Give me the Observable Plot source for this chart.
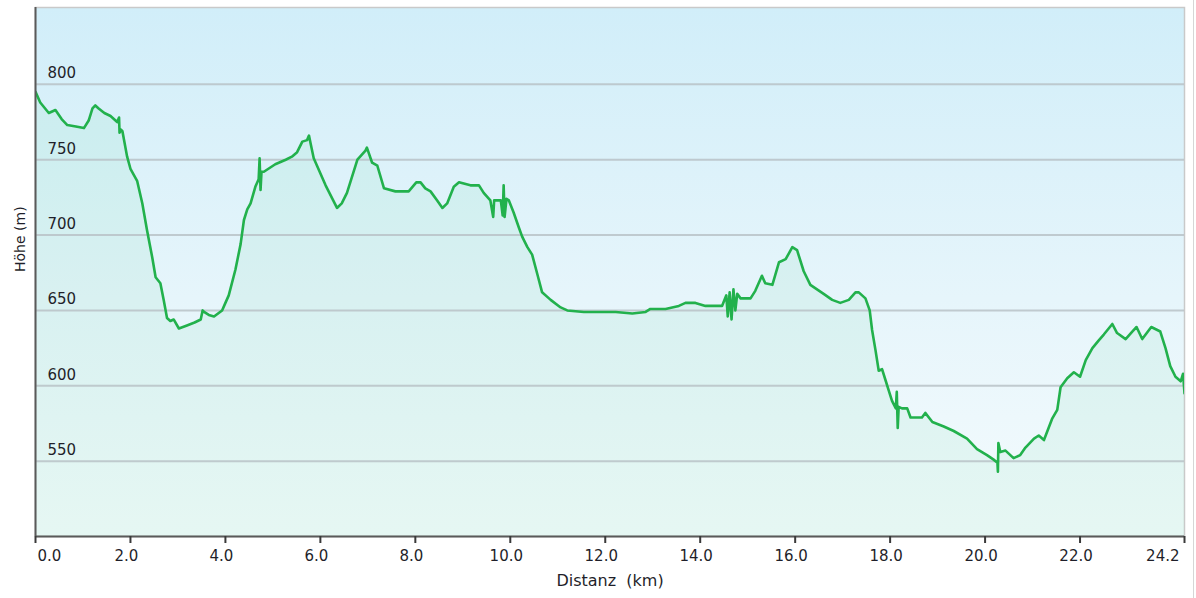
<!DOCTYPE html>
<html>
<head>
<meta charset="utf-8">
<script src="https://cdn.jsdelivr.net/npm/d3@7"></script>
<script src="https://cdn.jsdelivr.net/npm/@observablehq/plot@0.6"></script>
<style>
  html, body { margin: 0; padding: 0; background: #fff; }
  #chart { position: relative; width: 1196px; height: 598px; }
  #edge { position: absolute; left: 1193px; top: 0; width: 1px; height: 598px; background: #d6d6d6; }
  svg text { white-space: pre; }
</style>
</head>
<body>
<div id="chart"><div id="edge"></div></div>
<script>
// Distance along the route (km) and elevation (m)
const distKm = [
  0.00, 0.10, 0.28, 0.42, 0.55, 0.67, 0.85, 1.02, 1.12, 1.20, 1.26, 1.33, 1.45, 1.58, 1.72, 1.76, 1.77, 1.80,
  1.83, 1.93, 2.00, 2.14, 2.25, 2.35, 2.46, 2.53, 2.63, 2.70, 2.77, 2.84, 2.91, 3.02, 3.19, 3.35, 3.48, 3.52,
  3.55, 3.65, 3.76, 3.93, 4.00, 4.07, 4.21, 4.32, 4.39, 4.46, 4.53, 4.63, 4.70, 4.72, 4.74, 4.76, 4.81, 5.05,
  5.27, 5.40, 5.51, 5.62, 5.72, 5.76, 5.80, 5.86, 6.11, 6.35, 6.45, 6.56, 6.78, 6.95, 6.98, 7.09, 7.20, 7.34,
  7.58, 7.86, 8.02, 8.11, 8.21, 8.32, 8.46, 8.57, 8.67, 8.81, 8.92, 9.16, 9.34, 9.44, 9.58, 9.64, 9.66, 9.80,
  9.84, 9.86, 9.88, 9.92, 9.97, 10.07, 10.18, 10.25, 10.36, 10.46, 10.57, 10.67, 10.85, 11.06, 11.20, 11.55,
  11.90, 12.22, 12.57, 12.85, 12.95, 13.27, 13.55, 13.69, 13.90, 14.11, 14.46, 14.55, 14.58, 14.62, 14.66,
  14.70, 14.74, 14.78, 14.85, 15.06, 15.16, 15.30, 15.37, 15.52, 15.66, 15.80, 15.94, 16.04, 16.18, 16.32,
  16.60, 16.78, 16.95, 17.13, 17.27, 17.34, 17.48, 17.57, 17.62, 17.69, 17.76, 17.83, 17.90, 17.97, 18.04,
  18.12, 18.14, 18.16, 18.18, 18.25, 18.36, 18.43, 18.67, 18.74, 18.89, 19.13, 19.34, 19.62, 19.83, 20.04,
  20.18, 20.26, 20.27, 20.28, 20.32, 20.43, 20.60, 20.74, 20.85, 21.03, 21.13, 21.24, 21.41, 21.52, 21.59,
  21.73, 21.87, 22.00, 22.12, 22.26, 22.39, 22.50, 22.68, 22.78, 22.96, 23.10, 23.19, 23.31, 23.50, 23.69,
  23.80, 23.90, 24.01, 24.12, 24.17, 24.20
];
const elevM = [
  795, 788, 781, 783, 777, 773, 772, 771, 776, 784, 786, 784, 781, 779, 775, 778, 768, 770,
  769, 752, 744, 736, 721, 703, 685, 672, 668, 657, 645, 643, 644, 638, 640, 642, 644, 650,
  649, 647, 646, 650, 655, 660, 677, 694, 710, 717, 721, 732, 737, 751, 730, 742, 742, 747,
  750, 752, 755, 762, 763, 766, 760, 751, 733, 718, 721, 728, 750, 756, 758, 748, 746, 731,
  729, 729, 735, 735, 731, 729, 723, 718, 721, 732, 735, 733, 733, 728, 723, 712, 723, 723,
  713, 733, 712, 724, 723, 715, 705, 699, 692, 687, 674, 662, 657, 652, 650, 649,
  649, 649, 648, 649, 651, 651, 653, 655, 655, 653, 653, 660, 646, 662, 644,
  664, 650, 661, 658, 658, 663, 673, 668, 667, 682, 684, 692, 690, 676, 667,
  661, 657, 655, 657, 662, 662, 658, 650, 637, 624, 610, 611, 604, 597, 590,
  585, 596, 572, 586, 585, 585, 579, 579, 582, 576, 573, 570, 565, 558, 554,
  551, 549, 543, 562, 556, 557, 552, 554, 559, 565, 567, 564, 578, 584, 599,
  605, 609, 606, 617, 625, 630, 634, 641, 635, 631, 636, 639, 631, 639, 636,
  625, 613, 606, 603, 608, 595
];
const xTicks = [0, 2, 4, 6, 8, 10, 12, 14, 16, 18, 20, 22, 24.2];
const yTicks = [550, 600, 650, 700, 750, 800];
const xDomain = [0, 24.2];
const yDomain = [500, 851];
const xLabel = "Distanz  (km)";
const yLabel = "Höhe (m)";

const data = distKm.map((d, i) => ({km: d, elev: elevM[i]}));
const fmt = d3.format(".1f");
const font = "DejaVu Sans, Verdana, sans-serif";
const textColor = "#1f1f2a";

const chart = Plot.plot({
  width: 1196,
  height: 598,
  marginLeft: 35,
  marginRight: 12,
  marginTop: 7,
  marginBottom: 62,
  style: {fontFamily: font, background: "transparent", overflow: "visible"},
  x: {domain: xDomain, axis: null, label: null},
  y: {domain: yDomain, axis: null, label: null},
  marks: [
    Plot.frame({fill: "url(#bgGrad)", stroke: "#c9c9c9", strokeWidth: 1.5}),
    Plot.areaY(data, {x: "km", y: "elev", fill: "#3fd27a", fillOpacity: 0.08, clip: true}),
    Plot.gridY(yTicks, {stroke: "#b9c2c7", strokeWidth: 2, strokeOpacity: 0.85}),
    Plot.axisY(yTicks, {anchor: "left", label: null, tickSize: 0, tickPadding: 0, textAnchor: "start", dx: 12, dy: -11,
      fontSize: 15, fill: textColor, tickFormat: d => String(d)}),
    Plot.lineY(data, {x: "km", y: "elev", stroke: "#22b14c", strokeWidth: 2.6, strokeLinejoin: "round", clip: true}),
    Plot.ruleX([xDomain[0]], {stroke: "#5a5a5a", strokeWidth: 2}),
    Plot.ruleY([yDomain[0]], {stroke: "#5a5a5a", strokeWidth: 2}),
    // tick marks
    Plot.axisX(xTicks, {anchor: "bottom", label: null, tickSize: 7, stroke: "#3a3a3a", strokeWidth: 2, fill: "none", tickFormat: () => ""}),
    // tick labels
    Plot.axisX(xTicks.slice(1, -1), {anchor: "bottom", label: null, tickSize: 0, tickPadding: 14, dx: -4, fontSize: 15, fill: textColor, tickFormat: fmt}),
    Plot.axisX(xTicks.slice(0, 1), {anchor: "bottom", label: null, tickSize: 0, tickPadding: 14, dx: 2, textAnchor: "start", fontSize: 15, fill: textColor, tickFormat: fmt}),
    Plot.axisX(xTicks.slice(-1), {anchor: "bottom", label: null, tickSize: 0, tickPadding: 14, dx: -5, textAnchor: "end", fontSize: 15, fill: textColor, tickFormat: fmt}),
    Plot.text([xLabel], {frameAnchor: "bottom", dy: 49, fontSize: 16, fill: textColor}),
    Plot.text([yLabel], {frameAnchor: "left", dx: -15, rotate: -90, fontSize: 14, fill: textColor})
  ]
});

chart.insertAdjacentHTML("afterbegin",
  `<defs>
    <linearGradient id="bgGrad" x1="0" y1="0" x2="0" y2="1">
      <stop offset="0" stop-color="#d1eef9"/>
      <stop offset="0.55" stop-color="#e6f5fb"/>
      <stop offset="1" stop-color="#f4fbfd"/>
    </linearGradient>
  </defs>`);
document.getElementById("chart").prepend(chart);
</script>
</body>
</html>
